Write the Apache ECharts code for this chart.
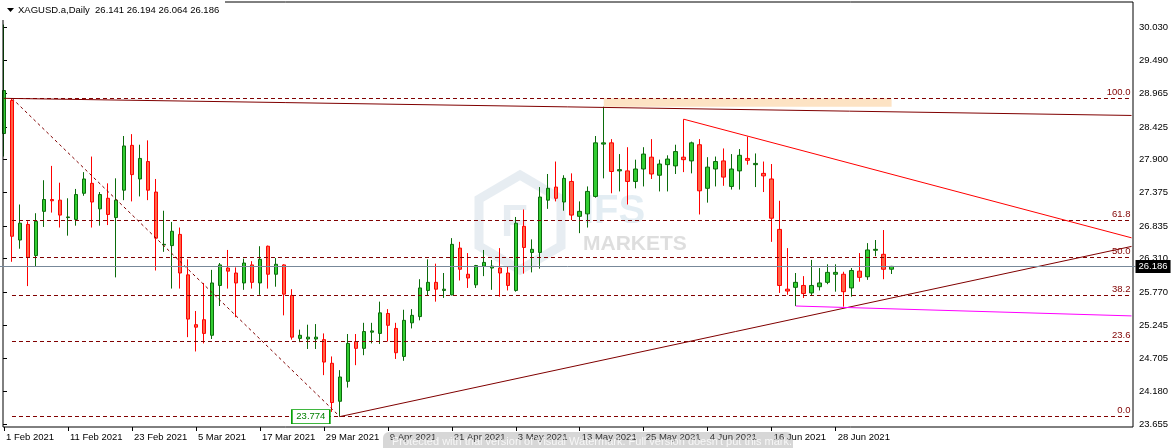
<!DOCTYPE html>
<html><head><meta charset="utf-8">
<script src="https://cdn.jsdelivr.net/npm/echarts@6/dist/echarts.min.js"></script>
<style>html,body{margin:0;padding:0;background:#fff}#c{width:1175px;height:448px}</style>
</head><body><div id="c"></div>
<script>
const dates = ['1 Feb 2021','2 Feb 2021','3 Feb 2021','4 Feb 2021','5 Feb 2021','8 Feb 2021','9 Feb 2021','10 Feb 2021','11 Feb 2021','12 Feb 2021','15 Feb 2021','16 Feb 2021','17 Feb 2021','18 Feb 2021','19 Feb 2021','22 Feb 2021','23 Feb 2021','24 Feb 2021','25 Feb 2021','26 Feb 2021',
'1 Mar 2021','2 Mar 2021','3 Mar 2021','4 Mar 2021','5 Mar 2021','8 Mar 2021','9 Mar 2021','10 Mar 2021','11 Mar 2021','12 Mar 2021','15 Mar 2021','16 Mar 2021','17 Mar 2021','18 Mar 2021','19 Mar 2021','22 Mar 2021','23 Mar 2021','24 Mar 2021','25 Mar 2021','26 Mar 2021','29 Mar 2021','30 Mar 2021','31 Mar 2021',
'1 Apr 2021','5 Apr 2021','6 Apr 2021','7 Apr 2021','8 Apr 2021','9 Apr 2021','12 Apr 2021','13 Apr 2021','14 Apr 2021','15 Apr 2021','16 Apr 2021','19 Apr 2021','20 Apr 2021','21 Apr 2021','22 Apr 2021','23 Apr 2021','26 Apr 2021','27 Apr 2021','28 Apr 2021','29 Apr 2021','30 Apr 2021',
'3 May 2021','4 May 2021','5 May 2021','6 May 2021','7 May 2021','10 May 2021','11 May 2021','12 May 2021','13 May 2021','14 May 2021','17 May 2021','18 May 2021','19 May 2021','20 May 2021','21 May 2021','24 May 2021','25 May 2021','26 May 2021','27 May 2021','28 May 2021','31 May 2021',
'1 Jun 2021','2 Jun 2021','3 Jun 2021','4 Jun 2021','7 Jun 2021','8 Jun 2021','9 Jun 2021','10 Jun 2021','11 Jun 2021','14 Jun 2021','15 Jun 2021','16 Jun 2021','17 Jun 2021','18 Jun 2021','21 Jun 2021','22 Jun 2021','23 Jun 2021','24 Jun 2021','25 Jun 2021','28 Jun 2021','29 Jun 2021','30 Jun 2021',
'1 Jul 2021','2 Jul 2021','5 Jul 2021','6 Jul 2021','7 Jul 2021'];

const open = [28.32,28.85,26.61,26.86,26.36,27.07,27.26,27.25,26.97,26.94,27.36,27.52,27.11,27.28,26.97,27.41,28.13,27.59,27.87,27.38,
26.53,26.52,26.70,26.05,25.25,25.33,25.08,25.88,26.16,26.08,25.92,26.21,25.92,26.51,26.06,26.21,25.72,25.03,25.02,25.02,25.01,24.63,24.02,
24.34,24.98,24.87,25.13,25.11,25.43,25.19,24.74,25.28,25.38,25.80,25.93,25.80,25.73,26.48,26.06,25.89,26.19,26.16,26.16,26.08,
25.80,26.83,26.41,26.41,27.25,27.46,27.22,27.55,26.99,27.03,27.31,28.15,28.17,27.72,27.72,27.55,27.75,27.94,27.65,27.82,27.80,
27.94,27.88,28.14,27.44,27.75,27.88,27.47,27.72,27.92,27.82,27.68,27.59,26.78,25.82,25.85,25.88,25.76,25.86,25.93,26.06,26.06,25.84,
26.11,26.02,26.445,26.38,26.141];
const high = [30.07,28.885,27.18,26.91,27.04,27.57,27.80,27.53,27.28,27.43,27.70,27.95,27.38,27.52,27.60,28.28,28.31,28.14,28.21,27.59,
27.08,26.90,26.81,26.30,25.47,25.92,26.13,26.24,26.45,26.17,26.31,26.27,26.51,26.52,26.32,26.22,25.82,25.17,25.25,25.26,25.11,24.74,24.52,
25.10,25.10,25.28,25.28,25.62,25.50,25.28,25.49,25.50,25.98,26.30,26.23,26.08,26.64,26.58,26.40,26.21,26.45,26.29,26.48,26.19,
26.98,27.10,26.62,27.46,27.67,27.87,27.65,27.68,27.23,27.47,28.28,28.75,28.23,27.99,28.10,27.90,28.10,28.23,27.90,27.97,28.14,
28.55,28.19,28.23,27.94,27.95,28.08,27.99,28.07,28.27,28.00,27.87,27.83,27.24,26.48,26.08,26.03,26.29,26.16,26.22,26.22,26.10,26.16,
26.40,26.56,26.61,26.77,26.194];
const low = [27.95,26.26,26.47,25.87,26.18,26.82,27.05,26.81,26.68,26.84,27.32,26.81,26.84,26.85,26.01,27.25,27.23,27.31,27.25,26.12,
26.42,25.83,25.83,25.05,24.82,24.95,25.02,25.55,25.83,25.37,25.81,25.83,25.73,25.83,25.86,25.40,25.01,24.97,24.86,24.86,24.44,23.85,23.774,
24.24,24.60,24.76,24.95,24.94,24.98,24.70,24.67,25.19,25.32,25.72,25.62,25.68,25.72,25.96,25.84,25.84,26.03,25.81,25.70,25.80,
25.78,26.07,26.09,26.15,27.11,27.23,27.08,26.93,26.72,26.81,27.29,27.60,27.36,27.39,27.18,27.44,27.47,27.59,27.39,27.39,27.67,
27.70,27.68,27.02,27.21,27.47,27.48,27.42,27.42,27.82,27.46,27.38,26.58,25.76,25.73,25.55,25.68,25.72,25.80,25.90,25.78,25.54,25.70,
25.94,25.97,26.35,25.98,26.064];
const close = [29.01,26.67,26.88,26.33,26.91,27.26,27.24,27.01,26.98,27.34,27.59,27.22,27.34,27.02,27.25,28.12,27.66,27.92,27.41,26.64,
26.54,26.75,26.08,25.34,25.21,25.11,25.92,26.21,26.11,25.92,26.24,25.93,26.30,26.06,26.22,25.74,25.05,25.08,25.05,25.05,24.65,24.00,24.41,
24.95,24.87,25.14,25.15,25.44,25.24,24.80,25.32,25.40,25.84,25.93,25.82,25.82,26.54,26.14,26.00,26.20,26.25,26.19,26.08,25.88,
26.88,26.49,26.46,27.30,27.44,27.28,27.60,27.01,27.07,27.39,28.17,28.17,27.71,27.74,27.55,27.75,27.99,27.67,27.83,27.91,28.03,
27.90,28.17,27.40,27.78,27.87,27.62,27.75,27.97,27.89,27.84,27.64,26.96,25.88,25.79,25.93,25.75,25.88,25.92,26.09,26.09,25.78,26.12,
26.01,26.45,26.46,26.14,26.186];

const yTickValues = [30.030,29.490,28.965,28.425,27.900,27.375,26.835,26.310,25.770,25.245,24.705,24.180,23.655];
const fibLow = 23.774, fibHigh = 28.885;
const fibLevels = [0.0,23.6,38.2,50.0,61.8,100.0];
const lastPrice = 26.186;
const FUTURE = 30;
// [startIndex, startValue, endIndex(-1 = right edge), endValue]
const topLine = [0,28.885,-1,28.61];
const redLine = [85,28.55,-1,26.645];
const riseLine = [42,23.774,-1,26.507];
const magentaLine = [99,25.55,-1,25.391];
const fibDiag = [1,28.885,42,23.774];
const zone = [75,28.885,111,28.75];
const titleText = 'XAGUSD.a,Daily  26.141 26.194 26.064 26.186';

const FONT = 'Liberation Sans';
const nBars = dates.length;
const cats = dates.concat(Array.from({length: FUTURE}, (_, i) => '+' + (i + 1)));
const lastIdx = cats.length - 1;
const Y_MIN = 23.607, Y_MAX = 30.432;
const showTick = (i) => i < nBars && i % 8 === 0;
const ix = (i) => (i < 0 ? lastIdx : i);

function seg(l, color, type) {
  return [{coord: [ix(l[0]), l[1]], lineStyle: {color: color, width: 1, type: type}, label: {show: false}},
          {coord: [ix(l[2]), l[3]]}];
}
const fibRange = fibHigh - fibLow;
const fibLines = fibLevels.map(p => {
  const v = fibLow + fibRange * p / 100;
  return [{coord: [1, v], lineStyle: {color: '#800000', width: 1, type: [4, 3]},
           label: {show: true, position: 'insideEndTop', formatter: p.toFixed(1), color: '#800000',
                   fontSize: 9.5, fontFamily: FONT, distance: [1, 1]}},
          {coord: [lastIdx, v]}];
});

const candleData = dates.map((d, i) => [open[i], close[i], low[i], high[i]]);

const chart = echarts.init(document.getElementById('c'));
chart.setOption({
  animation: false,
  backgroundColor: '#fff',
  textStyle: {fontFamily: FONT},
  grid: [
    {left: -0.5, width: 8 * cats.length, top: 2, bottom: 21},
    {left: 3, right: 42, top: 2, bottom: 21, show: true, borderColor: '#000', borderWidth: 1, backgroundColor: 'transparent', z: 5}
  ],
  xAxis: [
    {type: 'category', gridIndex: 0, data: cats, boundaryGap: true,
     axisLine: {show: false},
     axisTick: {show: true, interval: (i) => showTick(i), alignWithLabel: true, length: 4, lineStyle: {color: '#000'}},
     axisLabel: {interval: (i) => showTick(i), align: 'left', color: '#000', fontSize: 9.5, fontFamily: FONT, margin: 5, padding: [0, 0, 0, 2]},
     splitLine: {show: false}},
    {type: 'value', gridIndex: 1, min: 0, max: 1, show: false}
  ],
  yAxis: [
    {type: 'value', gridIndex: 0, min: Y_MIN, max: Y_MAX, show: false, splitLine: {show: false}},
    {type: 'value', gridIndex: 1, min: Y_MIN, max: Y_MAX, position: 'right',
     axisLine: {show: false},
     axisTick: {show: true, customValues: yTickValues, length: 4, lineStyle: {color: '#000'}},
     axisLabel: {customValues: yTickValues, formatter: (v) => v.toFixed(3), color: '#000', fontSize: 9.5, fontFamily: FONT, margin: 6},
     splitLine: {show: false}}
  ],
  series: [{
    type: 'candlestick', xAxisIndex: 0, yAxisIndex: 0, data: candleData, barWidth: 4,
    itemStyle: {color: '#32CD32', color0: '#FF6347', borderColor: '#0B6B0B', borderColor0: '#FF0000', borderWidth: 1},
    z: 3,
    markArea: {silent: true, itemStyle: {color: '#FDE3C4'},
      data: [[{coord: [zone[0], zone[1]]}, {coord: [zone[2], zone[3]]}]]},
    markLine: {silent: true, symbol: ['none', 'none'], animation: false, precision: 3,
      data: [
        ...fibLines,
        seg(fibDiag, '#800000', [3, 3]),
        seg(topLine, '#800000', 'solid'),
        seg(redLine, '#FF0000', 'solid'),
        seg(riseLine, '#800000', 'solid'),
        seg(magentaLine, '#FF00FF', 'solid'),
        {yAxis: lastPrice, lineStyle: {color: '#778899', width: 1, type: 'solid'},
         label: {show: true, position: 'end', distance: 0, formatter: lastPrice.toFixed(3), color: '#fff',
                 backgroundColor: '#000', padding: [2, 3, 1, 3], fontSize: 9.5, fontFamily: FONT}}
      ]},
    markPoint: {silent: true, symbol: 'rect', symbolSize: [38, 14], symbolOffset: [-29, 0],
      itemStyle: {color: '#fff', borderColor: '#00A000', borderWidth: 1},
      label: {show: true, position: 'inside', color: '#008000', fontSize: 9.5, fontFamily: FONT, formatter: '23.774'},
      data: [{coord: [42, fibLow]}]}
  }],
  graphic: [
    {type: 'group', silent: true, z: -1, children: [
      {type: 'polygon', shape: {points: [[520,175],[561,199],[561,246],[520,270],[479,246],[479,199]]},
       style: {fill: 'none', stroke: 'rgba(195,210,222,0.4)', lineWidth: 9}},
      {type: 'text', x: 501, y: 202, style: {text: 'F', font: 'bold 44px Liberation Sans', fill: 'rgba(195,210,222,0.4)'}},
      {type: 'text', x: 583, y: 192, style: {text: 'IFS', font: 'bold 40px Liberation Sans', fill: 'rgba(200,220,232,0.5)'}},
      {type: 'text', x: 583, y: 234, style: {text: 'MARKETS', font: 'bold 21px Liberation Sans', fill: 'rgba(195,195,195,0.55)'}}
    ]},
    {type: 'rect', shape: {x: 0, y: 0, width: 225, height: 20}, style: {fill: '#fff'}, z: 100},
    {type: 'polygon', shape: {points: [[7,8],[14,8],[10.5,12]]}, style: {fill: '#000'}, z: 101},
    {type: 'text', x: 18, y: 5, style: {text: titleText, font: '9.5px Liberation Sans', fill: '#000'}, z: 101},
    {type: 'rect', shape: {x: 383, y: 432, width: 410, height: 22, r: 6}, style: {fill: 'rgba(140,140,140,0.35)'}, z: 100},
    {type: 'text', x: 392, y: 436, style: {text: "Protected with trial version of Visual Watermark. Full version doesn't put this mark.", font: '11px Liberation Sans', fill: 'rgba(255,255,255,0.8)'}, z: 101}
  ]
});
</script></body></html>
